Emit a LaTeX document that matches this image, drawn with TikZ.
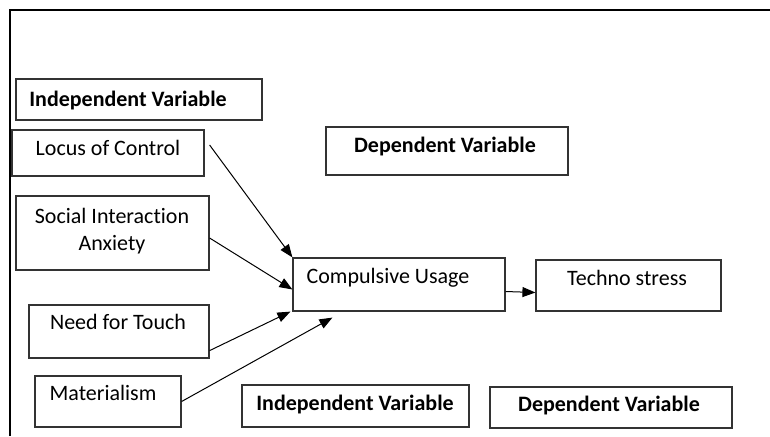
\documentclass[tikz,border=0pt]{standalone}
\usepackage{fontspec}
\setmainfont{Carlito}[Ligatures=NoCommon]
\usetikzlibrary{arrows.meta,fit,calc}

\begin{document}
\begin{tikzpicture}[x=0.5pt,y=-0.5pt,
  box/.style={draw=black!80, line width=0.6pt, inner sep=0pt},
  txt/.style={anchor=base, inner sep=0pt, align=center, font=\fontsize{11}{13.5}\selectfont},
  head/.style={txt, font=\fontsize{11}{13.5}\selectfont\bfseries},
  link/.style={line width=0.5pt, -{Triangle[length=6.5pt,width=5pt]}}]
\useasboundingbox (0,0) rectangle (770,436);
% outer frame
\draw[line width=1.2pt] (10,436) -- (10,10) -- (770,10);

% boxes
\node[box, fit={(16,79) (262,120)}] (ivtop) {};
\node[box, fit={(12,130) (204,176)}] (loc) {};
\node[box, fit={(16,196) (209,270)}] (soc) {};
\node[box, fit={(29,305) (209,358)}] (need) {};
\node[box, fit={(35,376) (181,427)}] (mat) {};
\node[box, fit={(293,258) (505,311)}] (comp) {};
\node[box, fit={(536,260) (721,311)}] (tech) {};
\node[box, fit={(326,127) (568,175)}] (dvtop) {};
\node[box, fit={(242,385) (469,427)}] (ivbot) {};
\node[box, fit={(490,387) (732,428)}] (dvbot) {};

% texts (base = last line)
\node[head] (ivtop-t) at (128,106) {Independent Variable};
\node[txt] (loc-t) at (108,155) {Locus of Control};
\node[txt] (soc-t) at (112,250) {Social Interaction\\Anxiety};
\node[txt] (need-t) at (118,329) {Need for Touch};
\node[txt] (mat-t) at (103,400) {Materialism};
\node[txt] (comp-t) at (388,283) {Compulsive Usage};
\node[txt] (tech-t) at (627,285) {Techno stress};
\node[head] (dvtop-t) at (445,152) {Dependent Variable};
\node[head] (ivbot-t) at (355,410) {Independent Variable};
\node[head] (dvbot-t) at (609,411) {Dependent Variable};

% arrows
\draw[link] ($(loc.east)+(5,-8)$) -- (comp.north west);
\draw[link] ($(soc.east)+(0,5)$) -- ($(comp.west)+(0,5)$);
\draw[link] ($(need.south east)+(0,-8)$) -- ($(comp.south west)+(-2,0)$);
\draw[link] (mat.east) -- ($(comp.south west)+(40,6)$);
\draw[link] ($(comp.east)+(0,7)$) -- ($(tech.west)+(0,7)$);
\end{tikzpicture}
\end{document}
